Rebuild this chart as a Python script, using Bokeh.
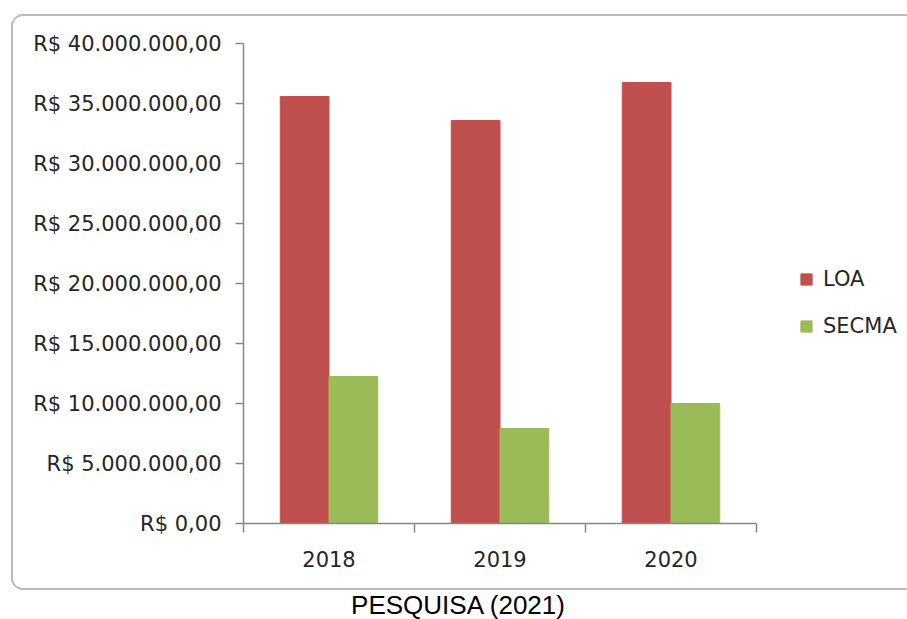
import numpy as np
from bokeh.plotting import figure
from bokeh.layouts import column
from bokeh.models import (ColumnDataSource, Range1d, FixedTicker, Legend, LegendItem, Div)
from bokeh.transform import dodge
from bokeh.embed import file_html
from bokeh.resources import INLINE

# ---- data ----
years = ["2018", "2019", "2020"]
loa = [35_580_000, 33_580_000, 36_750_000]
secma = [12_250_000, 7_920_000, 10_000_000]
y_ticks = [0, 5_000_000, 10_000_000, 15_000_000, 20_000_000,
           25_000_000, 30_000_000, 35_000_000, 40_000_000]
y_tick_labels = ["R$ 0,00", "R$ 5.000.000,00", "R$ 10.000.000,00", "R$ 15.000.000,00",
                 "R$ 20.000.000,00", "R$ 25.000.000,00", "R$ 30.000.000,00",
                 "R$ 35.000.000,00", "R$ 40.000.000,00"]
caption = "PESQUISA (2021)"

n = len(years)
x_pos = [i + 0.5 for i in range(n)]
src = ColumnDataSource(dict(x=x_pos, loa=loa, secma=secma))

FONT = "DejaVu Sans"
TXT = "#262626"
AX = "#868686"
BORDER = "#bababa"

# frame spans to the right edge; the extra room on the right holds the legend
x_end = n * (907 - 243) / (756 - 243)

p = figure(width=894, height=572, output_backend="svg", toolbar_location=None,
           x_range=Range1d(0, x_end), y_range=Range1d(0, 40_000_000),
           min_border_left=230, min_border_right=0, min_border_top=27,
           min_border_bottom=65, margin=(16, 0, 0, 13))
p.outline_line_color = None
p.grid.visible = False
p.background_fill_color = None
p.border_fill_color = None
p.styles = {"box-shadow": f"-2px 0 0 0 {BORDER}, 0 -2px 0 0 {BORDER}, 0 2px 0 0 {BORDER}",
            "border-radius": "9px 0 0 9px"}

r1 = p.vbar(x=dodge("x", -0.1425), top="loa", width=0.285, source=src,
            fill_color="#C0504D", line_color="#C0504D")
r2 = p.vbar(x=dodge("x", 0.1425), top="secma", width=0.285, source=src,
            fill_color="#9BBB59", line_color="#9BBB59")

# y axis
ya = p.yaxis[0]
ya.ticker = FixedTicker(ticks=y_ticks, minor_ticks=[])
ya.major_label_overrides = {t: l for t, l in zip(y_ticks, y_tick_labels)}
ya.axis_line_color = AX
ya.axis_line_width = 1.5
ya.major_tick_line_color = AX
ya.major_tick_line_width = 1.5
ya.major_tick_out = 8
ya.major_tick_in = 0
ya.minor_tick_line_color = None
ya.major_label_standoff = 14
ya.major_label_text_font = FONT
ya.major_label_text_font_size = "21px"
ya.major_label_text_color = TXT

# x axis (line limited to the three categories)
xa = p.xaxis[0]
xa.bounds = (0, n)
xa.ticker = FixedTicker(ticks=x_pos, minor_ticks=list(range(n + 1)))
xa.major_label_overrides = {x: y for x, y in zip(x_pos, years)}
xa.axis_line_color = AX
xa.axis_line_width = 1.5
xa.major_tick_line_color = None
xa.major_tick_out = 0
xa.major_tick_in = 0
xa.minor_tick_line_color = AX
xa.minor_tick_line_width = 1.5
xa.minor_tick_out = 9
xa.minor_tick_in = 0
xa.major_label_standoff = 18
xa.major_label_text_font = FONT
xa.major_label_text_font_size = "21px"
xa.major_label_text_color = TXT

# legend (pixel offset from the frame's bottom-left corner)
legend = Legend(items=[LegendItem(label="LOA", renderers=[r1]),
                       LegendItem(label="SECMA", renderers=[r2])],
                location=(556, 185), orientation="vertical",
                glyph_width=14, glyph_height=14, label_height=24,
                spacing=23, label_standoff=10, padding=0, margin=0,
                label_text_font=FONT, label_text_font_size="21px",
                label_text_color=TXT, border_line_color=None,
                background_fill_alpha=0)
p.add_layout(legend)

cap = Div(text=caption, width=898, height=26, margin=(4, 0, 0, 9),
          styles={"font-family": "Liberation Sans, Arial, sans-serif",
                  "font-size": "26px", "line-height": "26px",
                  "color": "black", "text-align": "center",
                  "overflow": "visible", "white-space": "nowrap"})

layout = column(p, cap, spacing=0)
open("out.html", "w").write(file_html(layout, INLINE))
